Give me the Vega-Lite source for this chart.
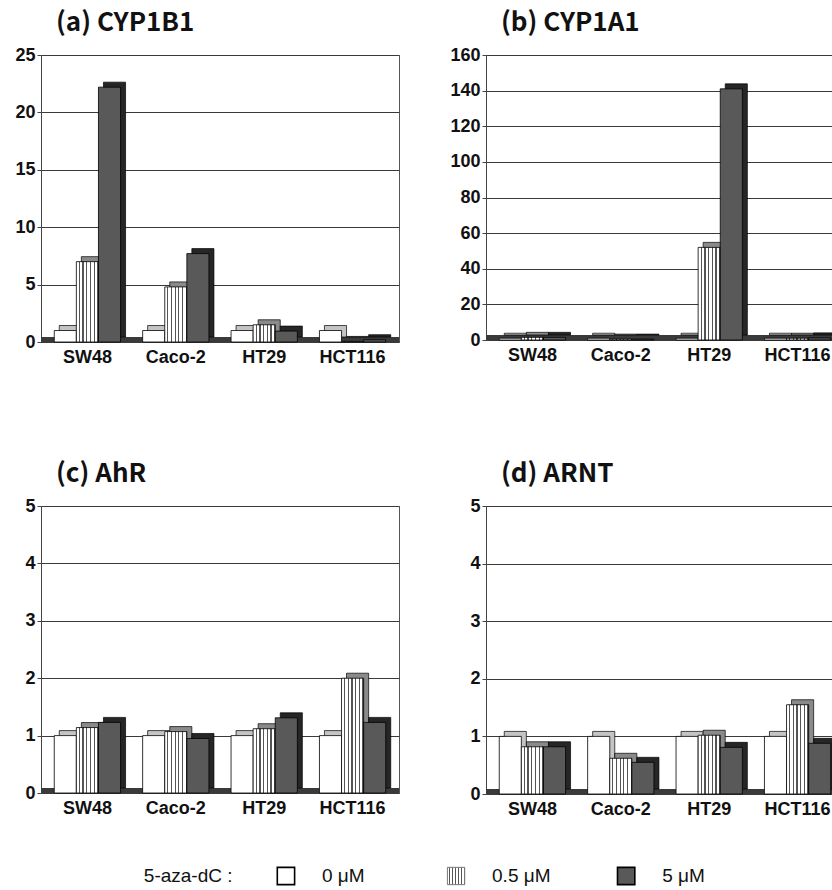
{
  "$schema": "https://vega.github.io/schema/vega-lite/v6.json",
  "padding": {"left": 4, "top": 9, "right": 0, "bottom": 0},
  "background": "white",
  "datasets": {
    "expr": [
      {"gene": "CYP1B1", "cell": "SW48", "dose": "0", "value": 1.0},
      {"gene": "CYP1B1", "cell": "SW48", "dose": "0.5", "value": 7.0},
      {"gene": "CYP1B1", "cell": "SW48", "dose": "5", "value": 22.2},
      {"gene": "CYP1B1", "cell": "Caco-2", "dose": "0", "value": 1.0},
      {"gene": "CYP1B1", "cell": "Caco-2", "dose": "0.5", "value": 4.8},
      {"gene": "CYP1B1", "cell": "Caco-2", "dose": "5", "value": 7.7},
      {"gene": "CYP1B1", "cell": "HT29", "dose": "0", "value": 1.0},
      {"gene": "CYP1B1", "cell": "HT29", "dose": "0.5", "value": 1.5},
      {"gene": "CYP1B1", "cell": "HT29", "dose": "5", "value": 0.95},
      {"gene": "CYP1B1", "cell": "HCT116", "dose": "0", "value": 1.0},
      {"gene": "CYP1B1", "cell": "HCT116", "dose": "0.5", "value": 0.05},
      {"gene": "CYP1B1", "cell": "HCT116", "dose": "5", "value": 0.2},
      {"gene": "CYP1A1", "cell": "SW48", "dose": "0", "value": 1.0},
      {"gene": "CYP1A1", "cell": "SW48", "dose": "0.5", "value": 1.5},
      {"gene": "CYP1A1", "cell": "SW48", "dose": "5", "value": 1.5},
      {"gene": "CYP1A1", "cell": "Caco-2", "dose": "0", "value": 1.0},
      {"gene": "CYP1A1", "cell": "Caco-2", "dose": "0.5", "value": 0.5},
      {"gene": "CYP1A1", "cell": "Caco-2", "dose": "5", "value": 0.5},
      {"gene": "CYP1A1", "cell": "HT29", "dose": "0", "value": 1.0},
      {"gene": "CYP1A1", "cell": "HT29", "dose": "0.5", "value": 52},
      {"gene": "CYP1A1", "cell": "HT29", "dose": "5", "value": 141},
      {"gene": "CYP1A1", "cell": "HCT116", "dose": "0", "value": 1.0},
      {"gene": "CYP1A1", "cell": "HCT116", "dose": "0.5", "value": 1.0},
      {"gene": "CYP1A1", "cell": "HCT116", "dose": "5", "value": 1.2},
      {"gene": "AhR", "cell": "SW48", "dose": "0", "value": 1.0},
      {"gene": "AhR", "cell": "SW48", "dose": "0.5", "value": 1.14},
      {"gene": "AhR", "cell": "SW48", "dose": "5", "value": 1.23},
      {"gene": "AhR", "cell": "Caco-2", "dose": "0", "value": 1.0},
      {"gene": "AhR", "cell": "Caco-2", "dose": "0.5", "value": 1.07},
      {"gene": "AhR", "cell": "Caco-2", "dose": "5", "value": 0.95},
      {"gene": "AhR", "cell": "HT29", "dose": "0", "value": 1.0},
      {"gene": "AhR", "cell": "HT29", "dose": "0.5", "value": 1.12},
      {"gene": "AhR", "cell": "HT29", "dose": "5", "value": 1.31},
      {"gene": "AhR", "cell": "HCT116", "dose": "0", "value": 1.0},
      {"gene": "AhR", "cell": "HCT116", "dose": "0.5", "value": 2.0},
      {"gene": "AhR", "cell": "HCT116", "dose": "5", "value": 1.23},
      {"gene": "ARNT", "cell": "SW48", "dose": "0", "value": 1.0},
      {"gene": "ARNT", "cell": "SW48", "dose": "0.5", "value": 0.82},
      {"gene": "ARNT", "cell": "SW48", "dose": "5", "value": 0.82},
      {"gene": "ARNT", "cell": "Caco-2", "dose": "0", "value": 1.0},
      {"gene": "ARNT", "cell": "Caco-2", "dose": "0.5", "value": 0.62},
      {"gene": "ARNT", "cell": "Caco-2", "dose": "5", "value": 0.55},
      {"gene": "ARNT", "cell": "HT29", "dose": "0", "value": 1.0},
      {"gene": "ARNT", "cell": "HT29", "dose": "0.5", "value": 1.02},
      {"gene": "ARNT", "cell": "HT29", "dose": "5", "value": 0.81},
      {"gene": "ARNT", "cell": "HCT116", "dose": "0", "value": 1.0},
      {"gene": "ARNT", "cell": "HCT116", "dose": "0.5", "value": 1.55},
      {"gene": "ARNT", "cell": "HCT116", "dose": "5", "value": 0.88}
    ],
    "legend": [
      {"key": "a", "dose": "none", "label": "5-aza-dC   :"},
      {"key": "b", "dose": "0", "label": "0 μM"},
      {"key": "c", "dose": "0.5", "label": "0.5 μM"},
      {"key": "d", "dose": "5", "label": "5 μM"}
    ]
  },
  "vconcat": [
    {
      "spacing": 93,
      "vconcat": [
        {
          "spacing": 47,
          "hconcat": [
            {
              "width": 358, "height": 287,
              "data": {"name": "expr"},
              "transform": [{"filter": "datum.gene === 'CYP1B1'"}, {"calculate": "datum.cell + '|' + datum.dose", "as": "slot"}],
              "title": {"text": "(a) CYP1B1"},
              "layer": [
                {"mark": {"type": "rule", "color": "#3a3a3a", "strokeWidth": 5, "yOffset": -2.5},
                 "encoding": {"y": {"datum": 0, "type": "quantitative", "scale": {"domain": [0, 25], "nice": false}, "title": null, "axis": {"values": [0, 5, 10, 15, 20, 25]}}}},
                {
                  "encoding": {
                    "x": {"field": "slot", "type": "nominal", "scale": {"domain": ["SW48|0", "SW48|0.5", "SW48|5", "g1", "Caco-2|0", "Caco-2|0.5", "Caco-2|5", "g2", "HT29|0", "HT29|0.5", "HT29|5", "g3", "HCT116|0", "HCT116|0.5", "HCT116|5"], "paddingInner": 0, "paddingOuter": 0.6}, "title": null, "axis": {"labelExpr": "indexof(datum.value, '|0.5') > 0 ? split(datum.value, '|')[0] : ''"}},
                    "y": {"field": "value", "type": "quantitative", "scale": {"domain": [0, 25], "nice": false}, "title": null, "axis": {"values": [0, 5, 10, 15, 20, 25]}}
                  },
                  "layer": [
                    {"transform": [{"filter": "datum.dose === '0'"}], "mark": {"type": "bar", "xOffset": 5, "yOffset": -5, "fill": "#c4c4c4", "stroke": "#000", "strokeWidth": 0.7}},
                    {"transform": [{"filter": "datum.dose === '0.5'"}], "mark": {"type": "bar", "xOffset": 5, "yOffset": -5, "fill": "#8a8a8a", "stroke": "#000", "strokeWidth": 0.7}},
                    {"transform": [{"filter": "datum.dose === '5'"}], "mark": {"type": "bar", "xOffset": 5, "yOffset": -5, "fill": "#262626", "stroke": "#000", "strokeWidth": 0.7}},
                    {"transform": [{"filter": "datum.dose === '0'"}], "mark": {"type": "bar", "fill": "#ffffff", "stroke": "#000", "strokeWidth": 0.8}},
                    {"transform": [{"filter": "datum.dose === '0.5'"}], "mark": {"type": "bar", "stroke": "#000", "strokeWidth": 0.8, "fill": {"gradient": "linear", "x1": 0, "y1": 0, "x2": 1, "y2": 0, "stops": [{"offset": 0, "color": "#ffffff"}, {"offset": 0.11, "color": "#ffffff"}, {"offset": 0.11, "color": "#555555"}, {"offset": 0.167, "color": "#555555"}, {"offset": 0.167, "color": "#ffffff"}, {"offset": 0.277, "color": "#ffffff"}, {"offset": 0.277, "color": "#555555"}, {"offset": 0.333, "color": "#555555"}, {"offset": 0.333, "color": "#ffffff"}, {"offset": 0.443, "color": "#ffffff"}, {"offset": 0.443, "color": "#555555"}, {"offset": 0.5, "color": "#555555"}, {"offset": 0.5, "color": "#ffffff"}, {"offset": 0.61, "color": "#ffffff"}, {"offset": 0.61, "color": "#555555"}, {"offset": 0.667, "color": "#555555"}, {"offset": 0.667, "color": "#ffffff"}, {"offset": 0.777, "color": "#ffffff"}, {"offset": 0.777, "color": "#555555"}, {"offset": 0.833, "color": "#555555"}, {"offset": 0.833, "color": "#ffffff"}, {"offset": 0.943, "color": "#ffffff"}, {"offset": 0.943, "color": "#555555"}, {"offset": 1, "color": "#555555"}]}}},
                    {"transform": [{"filter": "datum.dose === '5'"}], "mark": {"type": "bar", "fill": "#595959", "stroke": "#000", "strokeWidth": 0.8}}
                  ]
                }
              ]
            },
            {
              "width": 358, "height": 285,
              "data": {"name": "expr"},
              "transform": [{"filter": "datum.gene === 'CYP1A1'"}, {"calculate": "datum.cell + '|' + datum.dose", "as": "slot"}],
              "title": {"text": "(b) CYP1A1"},
              "layer": [
                {"mark": {"type": "rule", "color": "#3a3a3a", "strokeWidth": 5, "yOffset": -2.5},
                 "encoding": {"y": {"datum": 0, "type": "quantitative", "scale": {"domain": [0, 160], "nice": false}, "title": null, "axis": {"values": [0, 20, 40, 60, 80, 100, 120, 140, 160]}}}},
                {
                  "encoding": {
                    "x": {"field": "slot", "type": "nominal", "scale": {"domain": ["SW48|0", "SW48|0.5", "SW48|5", "g1", "Caco-2|0", "Caco-2|0.5", "Caco-2|5", "g2", "HT29|0", "HT29|0.5", "HT29|5", "g3", "HCT116|0", "HCT116|0.5", "HCT116|5"], "paddingInner": 0, "paddingOuter": 0.6}, "title": null, "axis": {"labelExpr": "indexof(datum.value, '|0.5') > 0 ? split(datum.value, '|')[0] : ''"}},
                    "y": {"field": "value", "type": "quantitative", "scale": {"domain": [0, 160], "nice": false}, "title": null, "axis": {"values": [0, 20, 40, 60, 80, 100, 120, 140, 160]}}
                  },
                  "layer": [
                    {"transform": [{"filter": "datum.dose === '0'"}], "mark": {"type": "bar", "xOffset": 5, "yOffset": -5, "fill": "#c4c4c4", "stroke": "#000", "strokeWidth": 0.7}},
                    {"transform": [{"filter": "datum.dose === '0.5'"}], "mark": {"type": "bar", "xOffset": 5, "yOffset": -5, "fill": "#8a8a8a", "stroke": "#000", "strokeWidth": 0.7}},
                    {"transform": [{"filter": "datum.dose === '5'"}], "mark": {"type": "bar", "xOffset": 5, "yOffset": -5, "fill": "#262626", "stroke": "#000", "strokeWidth": 0.7}},
                    {"transform": [{"filter": "datum.dose === '0'"}], "mark": {"type": "bar", "fill": "#ffffff", "stroke": "#000", "strokeWidth": 0.8}},
                    {"transform": [{"filter": "datum.dose === '0.5'"}], "mark": {"type": "bar", "stroke": "#000", "strokeWidth": 0.8, "fill": {"gradient": "linear", "x1": 0, "y1": 0, "x2": 1, "y2": 0, "stops": [{"offset": 0, "color": "#ffffff"}, {"offset": 0.11, "color": "#ffffff"}, {"offset": 0.11, "color": "#555555"}, {"offset": 0.167, "color": "#555555"}, {"offset": 0.167, "color": "#ffffff"}, {"offset": 0.277, "color": "#ffffff"}, {"offset": 0.277, "color": "#555555"}, {"offset": 0.333, "color": "#555555"}, {"offset": 0.333, "color": "#ffffff"}, {"offset": 0.443, "color": "#ffffff"}, {"offset": 0.443, "color": "#555555"}, {"offset": 0.5, "color": "#555555"}, {"offset": 0.5, "color": "#ffffff"}, {"offset": 0.61, "color": "#ffffff"}, {"offset": 0.61, "color": "#555555"}, {"offset": 0.667, "color": "#555555"}, {"offset": 0.667, "color": "#ffffff"}, {"offset": 0.777, "color": "#ffffff"}, {"offset": 0.777, "color": "#555555"}, {"offset": 0.833, "color": "#555555"}, {"offset": 0.833, "color": "#ffffff"}, {"offset": 0.943, "color": "#ffffff"}, {"offset": 0.943, "color": "#555555"}, {"offset": 1, "color": "#555555"}]}}},
                    {"transform": [{"filter": "datum.dose === '5'"}], "mark": {"type": "bar", "fill": "#595959", "stroke": "#000", "strokeWidth": 0.8}}
                  ]
                }
              ]
            }
          ]
        },
        {
          "spacing": 47,
          "hconcat": [
            {
              "width": 358, "height": 287,
              "data": {"name": "expr"},
              "transform": [{"filter": "datum.gene === 'AhR'"}, {"calculate": "datum.cell + '|' + datum.dose", "as": "slot"}],
              "title": {"text": "(c) AhR"},
              "layer": [
                {"mark": {"type": "rule", "color": "#3a3a3a", "strokeWidth": 5, "yOffset": -2.5},
                 "encoding": {"y": {"datum": 0, "type": "quantitative", "scale": {"domain": [0, 5], "nice": false}, "title": null, "axis": {"values": [0, 1, 2, 3, 4, 5]}}}},
                {
                  "encoding": {
                    "x": {"field": "slot", "type": "nominal", "scale": {"domain": ["SW48|0", "SW48|0.5", "SW48|5", "g1", "Caco-2|0", "Caco-2|0.5", "Caco-2|5", "g2", "HT29|0", "HT29|0.5", "HT29|5", "g3", "HCT116|0", "HCT116|0.5", "HCT116|5"], "paddingInner": 0, "paddingOuter": 0.6}, "title": null, "axis": {"labelExpr": "indexof(datum.value, '|0.5') > 0 ? split(datum.value, '|')[0] : ''"}},
                    "y": {"field": "value", "type": "quantitative", "scale": {"domain": [0, 5], "nice": false}, "title": null, "axis": {"values": [0, 1, 2, 3, 4, 5]}}
                  },
                  "layer": [
                    {"transform": [{"filter": "datum.dose === '0'"}], "mark": {"type": "bar", "xOffset": 5, "yOffset": -5, "fill": "#c4c4c4", "stroke": "#000", "strokeWidth": 0.7}},
                    {"transform": [{"filter": "datum.dose === '0.5'"}], "mark": {"type": "bar", "xOffset": 5, "yOffset": -5, "fill": "#8a8a8a", "stroke": "#000", "strokeWidth": 0.7}},
                    {"transform": [{"filter": "datum.dose === '5'"}], "mark": {"type": "bar", "xOffset": 5, "yOffset": -5, "fill": "#262626", "stroke": "#000", "strokeWidth": 0.7}},
                    {"transform": [{"filter": "datum.dose === '0'"}], "mark": {"type": "bar", "fill": "#ffffff", "stroke": "#000", "strokeWidth": 0.8}},
                    {"transform": [{"filter": "datum.dose === '0.5'"}], "mark": {"type": "bar", "stroke": "#000", "strokeWidth": 0.8, "fill": {"gradient": "linear", "x1": 0, "y1": 0, "x2": 1, "y2": 0, "stops": [{"offset": 0, "color": "#ffffff"}, {"offset": 0.11, "color": "#ffffff"}, {"offset": 0.11, "color": "#555555"}, {"offset": 0.167, "color": "#555555"}, {"offset": 0.167, "color": "#ffffff"}, {"offset": 0.277, "color": "#ffffff"}, {"offset": 0.277, "color": "#555555"}, {"offset": 0.333, "color": "#555555"}, {"offset": 0.333, "color": "#ffffff"}, {"offset": 0.443, "color": "#ffffff"}, {"offset": 0.443, "color": "#555555"}, {"offset": 0.5, "color": "#555555"}, {"offset": 0.5, "color": "#ffffff"}, {"offset": 0.61, "color": "#ffffff"}, {"offset": 0.61, "color": "#555555"}, {"offset": 0.667, "color": "#555555"}, {"offset": 0.667, "color": "#ffffff"}, {"offset": 0.777, "color": "#ffffff"}, {"offset": 0.777, "color": "#555555"}, {"offset": 0.833, "color": "#555555"}, {"offset": 0.833, "color": "#ffffff"}, {"offset": 0.943, "color": "#ffffff"}, {"offset": 0.943, "color": "#555555"}, {"offset": 1, "color": "#555555"}]}}},
                    {"transform": [{"filter": "datum.dose === '5'"}], "mark": {"type": "bar", "fill": "#595959", "stroke": "#000", "strokeWidth": 0.8}}
                  ]
                }
              ]
            },
            {
              "width": 358, "height": 288,
              "data": {"name": "expr"},
              "transform": [{"filter": "datum.gene === 'ARNT'"}, {"calculate": "datum.cell + '|' + datum.dose", "as": "slot"}],
              "title": {"text": "(d) ARNT"},
              "layer": [
                {"mark": {"type": "rule", "color": "#3a3a3a", "strokeWidth": 5, "yOffset": -2.5},
                 "encoding": {"y": {"datum": 0, "type": "quantitative", "scale": {"domain": [0, 5], "nice": false}, "title": null, "axis": {"values": [0, 1, 2, 3, 4, 5]}}}},
                {
                  "encoding": {
                    "x": {"field": "slot", "type": "nominal", "scale": {"domain": ["SW48|0", "SW48|0.5", "SW48|5", "g1", "Caco-2|0", "Caco-2|0.5", "Caco-2|5", "g2", "HT29|0", "HT29|0.5", "HT29|5", "g3", "HCT116|0", "HCT116|0.5", "HCT116|5"], "paddingInner": 0, "paddingOuter": 0.6}, "title": null, "axis": {"labelExpr": "indexof(datum.value, '|0.5') > 0 ? split(datum.value, '|')[0] : ''"}},
                    "y": {"field": "value", "type": "quantitative", "scale": {"domain": [0, 5], "nice": false}, "title": null, "axis": {"values": [0, 1, 2, 3, 4, 5]}}
                  },
                  "layer": [
                    {"transform": [{"filter": "datum.dose === '0'"}], "mark": {"type": "bar", "xOffset": 5, "yOffset": -5, "fill": "#c4c4c4", "stroke": "#000", "strokeWidth": 0.7}},
                    {"transform": [{"filter": "datum.dose === '0.5'"}], "mark": {"type": "bar", "xOffset": 5, "yOffset": -5, "fill": "#8a8a8a", "stroke": "#000", "strokeWidth": 0.7}},
                    {"transform": [{"filter": "datum.dose === '5'"}], "mark": {"type": "bar", "xOffset": 5, "yOffset": -5, "fill": "#262626", "stroke": "#000", "strokeWidth": 0.7}},
                    {"transform": [{"filter": "datum.dose === '0'"}], "mark": {"type": "bar", "fill": "#ffffff", "stroke": "#000", "strokeWidth": 0.8}},
                    {"transform": [{"filter": "datum.dose === '0.5'"}], "mark": {"type": "bar", "stroke": "#000", "strokeWidth": 0.8, "fill": {"gradient": "linear", "x1": 0, "y1": 0, "x2": 1, "y2": 0, "stops": [{"offset": 0, "color": "#ffffff"}, {"offset": 0.11, "color": "#ffffff"}, {"offset": 0.11, "color": "#555555"}, {"offset": 0.167, "color": "#555555"}, {"offset": 0.167, "color": "#ffffff"}, {"offset": 0.277, "color": "#ffffff"}, {"offset": 0.277, "color": "#555555"}, {"offset": 0.333, "color": "#555555"}, {"offset": 0.333, "color": "#ffffff"}, {"offset": 0.443, "color": "#ffffff"}, {"offset": 0.443, "color": "#555555"}, {"offset": 0.5, "color": "#555555"}, {"offset": 0.5, "color": "#ffffff"}, {"offset": 0.61, "color": "#ffffff"}, {"offset": 0.61, "color": "#555555"}, {"offset": 0.667, "color": "#555555"}, {"offset": 0.667, "color": "#ffffff"}, {"offset": 0.777, "color": "#ffffff"}, {"offset": 0.777, "color": "#555555"}, {"offset": 0.833, "color": "#555555"}, {"offset": 0.833, "color": "#ffffff"}, {"offset": 0.943, "color": "#ffffff"}, {"offset": 0.943, "color": "#555555"}, {"offset": 1, "color": "#555555"}]}}},
                    {"transform": [{"filter": "datum.dose === '5'"}], "mark": {"type": "bar", "fill": "#595959", "stroke": "#000", "strokeWidth": 0.8}}
                  ]
                }
              ]
            }
          ]
        }
      ]
    },
    {
      "width": 660, "height": 30,
      "data": {"name": "legend"},
      "view": {"stroke": null},
      "encoding": {
        "x": {"field": "key", "type": "ordinal", "scale": {"type": "point", "padding": 0.44}, "axis": null}
      },
      "layer": [
        {"transform": [{"filter": "datum.dose === 'none'"}], "mark": {"type": "text", "align": "left", "dx": 28, "font": "Liberation Sans", "fontSize": 19, "color": "#111"}, "encoding": {"text": {"field": "label"}}},
        {"transform": [{"filter": "datum.dose !== 'none'"}], "mark": {"type": "text", "align": "left", "dx": 36, "font": "Liberation Sans", "fontSize": 19, "color": "#111"}, "encoding": {"text": {"field": "label"}}},
        {"transform": [{"filter": "datum.dose === '0'"}], "mark": {"type": "point", "shape": "square", "size": 300, "filled": true, "fill": "#ffffff", "stroke": "#000", "strokeWidth": 1.6, "opacity": 1}},
        {"transform": [{"filter": "datum.dose === '0.5'"}], "mark": {"type": "point", "shape": "square", "size": 300, "filled": true, "stroke": "#777", "strokeWidth": 1, "opacity": 1, "fill": {"gradient": "linear", "x1": 0, "y1": 0, "x2": 1, "y2": 0, "stops": [{"offset": 0, "color": "#ffffff"}, {"offset": 0.11, "color": "#ffffff"}, {"offset": 0.11, "color": "#555555"}, {"offset": 0.167, "color": "#555555"}, {"offset": 0.167, "color": "#ffffff"}, {"offset": 0.277, "color": "#ffffff"}, {"offset": 0.277, "color": "#555555"}, {"offset": 0.333, "color": "#555555"}, {"offset": 0.333, "color": "#ffffff"}, {"offset": 0.443, "color": "#ffffff"}, {"offset": 0.443, "color": "#555555"}, {"offset": 0.5, "color": "#555555"}, {"offset": 0.5, "color": "#ffffff"}, {"offset": 0.61, "color": "#ffffff"}, {"offset": 0.61, "color": "#555555"}, {"offset": 0.667, "color": "#555555"}, {"offset": 0.667, "color": "#ffffff"}, {"offset": 0.777, "color": "#ffffff"}, {"offset": 0.777, "color": "#555555"}, {"offset": 0.833, "color": "#555555"}, {"offset": 0.833, "color": "#ffffff"}, {"offset": 0.943, "color": "#ffffff"}, {"offset": 0.943, "color": "#555555"}, {"offset": 1, "color": "#555555"}]}}},
        {"transform": [{"filter": "datum.dose === '5'"}], "mark": {"type": "point", "shape": "square", "size": 300, "filled": true, "fill": "#595959", "stroke": "#000", "strokeWidth": 1.6, "opacity": 1}}
      ]
    }
  ],
  "spacing": 42,
  "config": {
    "view": {"stroke": "#555555", "strokeWidth": 1},
    "axis": {"labelFont": "Liberation Sans", "labelFontWeight": "bold", "labelFontSize": 18, "labelColor": "#111111", "gridColor": "#3a3a3a", "gridOpacity": 1, "gridWidth": 1, "domainColor": "#444444", "tickColor": "#444444"},
    "axisY": {"grid": true, "tickSize": 4, "labelPadding": 2, "minExtent": 36, "maxExtent": 36},
    "axisX": {"grid": false, "domain": false, "ticks": false, "labelAngle": 0, "labelPadding": 6, "labelOverlap": false},
    "title": {"font": "Noto Sans CJK JP", "fontSize": 26, "fontWeight": "bold", "anchor": "start", "frame": "group", "dx": 15, "offset": 10, "color": "#111111"}
  }
}
